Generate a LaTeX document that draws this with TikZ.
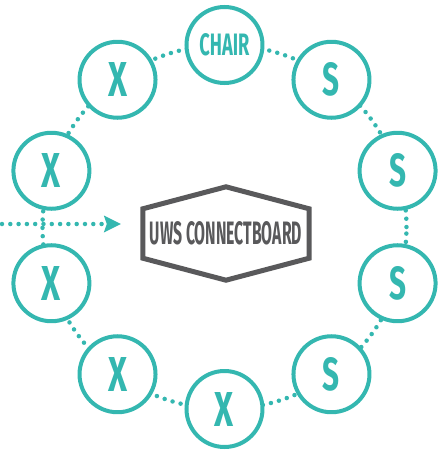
\documentclass[tikz,border=0pt]{standalone}
\usepackage{fontspec}
\setmainfont{Fira Sans}
\usetikzlibrary{arrows.meta,calc}
\definecolor{uwsteal}{RGB}{52,183,176}
\definecolor{boardgrey}{RGB}{89,89,91}
\newcommand{\fitlbl}[3]{\resizebox{#1}{#2}{\bfseries #3}}
\tikzset{
	seat/.style={circle, draw=uwsteal, line width=4pt, fill=white,
		minimum size=76pt, inner sep=0pt, text=uwsteal},
	dots/.style={draw=uwsteal, line width=4.5pt, line cap=round,
		dash pattern=on 0pt off 8.3pt},
	board/.style={text=boardgrey, minimum width=166pt, minimum height=93pt},
	hexline/.style={draw=boardgrey, line width=5pt, line join=miter}
}
\begin{document}
\begin{tikzpicture}[x=1pt,y=1pt]
	\useasboundingbox (-224.5,-224) rectangle (221.5,227);
	\coordinate (hub) at (0,0);
	\draw [dots] (hub) circle (182);
	\node [seat] (chair) at (90:182) {\fitlbl{50pt}{22pt}{CHAIR}};
	\node [seat] (s1) at (54:182) {\fitlbl{17pt}{33pt}{S}};
	\node [seat] (s2) at (18:182) {\fitlbl{17pt}{33pt}{S}};
	\node [seat] (s3) at (-18:182) {\fitlbl{17pt}{33pt}{S}};
	\node [seat] (s4) at (-54:182) {\fitlbl{17pt}{33pt}{S}};
	\node [seat] (x1) at (-90:182) {\fitlbl{19pt}{34pt}{X}};
	\node [seat] (x2) at (-126:182) {\fitlbl{19pt}{34pt}{X}};
	\node [seat] (x3) at (-162:182) {\fitlbl{19pt}{34pt}{X}};
	\node [seat] (x4) at (162:182) {\fitlbl{19pt}{34pt}{X}};
	\node [seat] (x5) at (126:182) {\fitlbl{19pt}{34pt}{X}};
	\node [board] (ucb) at (1.5,-6.5) {\fitlbl{152pt}{23pt}{UWS CONNECTBOARD}};
	\draw [hexline] (ucb.north) -- ($(ucb.north east)+(0,-22)$)
		-- ($(ucb.south east)+(0,22)$) -- (ucb.south)
		-- ($(ucb.south west)+(0,22)$) -- ($(ucb.north west)+(0,-22)$) -- cycle;
	\coordinate (in) at (-222.5,3);
	\draw [dots, -{Stealth[length=17pt, width=17pt, inset=3pt, line width=0pt]}, shorten >=22pt]
		(in) -- (in -| ucb.west);
\end{tikzpicture}
\end{document}
